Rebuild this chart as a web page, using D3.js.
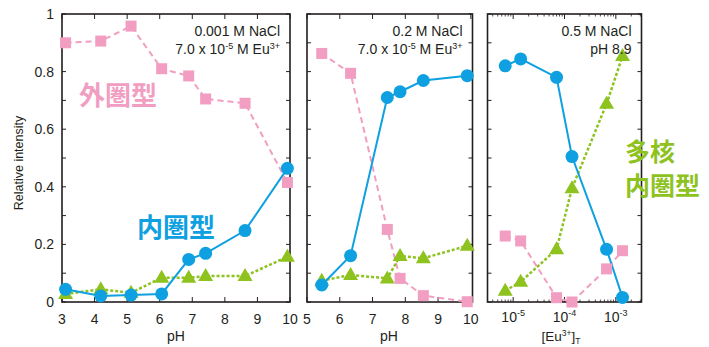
<!DOCTYPE html>
<html><head><meta charset="utf-8">
<script src="https://cdn.jsdelivr.net/npm/d3@7"></script>
<style>body{margin:0;background:#fff}svg{display:block}</style>
</head><body><svg id="c" width="709" height="347"></svg>
<script>
// Panel 1: 0.001 M NaCl, x = pH
const p1_pH = [3.11, 4.19, 5.12, 6.06, 6.89, 7.41, 8.62, 9.92];
const p1_outer = [0.90, 0.906, 0.958, 0.81, 0.785, 0.705, 0.69, 0.415];
const p1_inner = [0.044, 0.021, 0.024, 0.028, 0.148, 0.169, 0.248, 0.464];
const p1_poly  = [0.028, 0.044, 0.032, 0.084, 0.084, 0.09, 0.09, 0.157];
// Panel 2: 0.2 M NaCl
const p2_pH = [5.45, 6.33, 7.45, 7.84, 8.55, 9.89];
const p2_outer = [0.863, 0.794, 0.252, 0.082, 0.022, 0.001];
const p2_inner = [0.059, 0.161, 0.71, 0.73, 0.769, 0.786];
const p2_poly  = [0.074, 0.094, 0.082, 0.16, 0.152, 0.195];
// Panel 3: 0.5 M NaCl, pH 8.9, x = [Eu3+]T
const p3_eu = [7e-6, 1.4e-5, 7e-5, 1.4e-4, 6.6e-4, 1.35e-3];
const p3_outer = [0.229, 0.212, 0.015, 0.0, 0.115, 0.178];
const p3_inner = [0.82, 0.844, 0.78, 0.505, 0.183, 0.016];
const p3_poly  = [0.039, 0.07, 0.183, 0.395, 0.688, 0.854];
const yTicks = [0, 0.2, 0.4, 0.6, 0.8, 1];
const p1_xTicks = [3,4,5,6,7,8,9,10];
const p2_xTicks = [5,6,7,8,9,10];
const p3_xTicks = [1e-5, 1e-4, 1e-3];

const svg = d3.select("#c");
const TXT = "#231f20", PINK = "#f19ec2", BLUE = "#0ea0e0", GREEN = "#8dc21f";
const FONT = "Liberation Sans, Arial, sans-serif";
const y = d3.scaleLinear().domain([0,1]).range([302,14]);

function panel(x, xs, o, i, p, opts) {
  const [x0,x1] = x.range();
  const g = svg.append("g");
  const yt = d3.range(0,1.0001,0.1);
  g.selectAll(".yl").data(yt).join("line").attr("x1",x0).attr("x2",x0+4)
    .attr("y1",d=>y(d)).attr("y2",d=>y(d)).attr("stroke",TXT).attr("stroke-width",1);
  g.selectAll(".yr").data(yt).join("line").attr("x1",x1).attr("x2",x1-4)
    .attr("y1",d=>y(d)).attr("y2",d=>y(d)).attr("stroke",TXT).attr("stroke-width",1);
  const xt = opts.xTicks;
  const minor = opts.minor || [];
  [[302,-1],[14,1]].forEach(([yy,s])=>{
    g.selectAll(null).data(xt).join("line").attr("x1",d=>x(d)).attr("x2",d=>x(d))
      .attr("y1",yy).attr("y2",yy+s*5).attr("stroke",TXT).attr("stroke-width",1);
    g.selectAll(null).data(minor).join("line").attr("x1",d=>x(d)).attr("x2",d=>x(d))
      .attr("y1",yy).attr("y2",yy+s*2.5).attr("stroke",TXT).attr("stroke-width",0.8);
  });
  g.append("rect").attr("x",x0).attr("y",14).attr("width",x1-x0).attr("height",288)
    .attr("fill","none").attr("stroke",TXT).attr("stroke-width",1.6);
  const lab = g.selectAll(".xl").data(xt).join("text").attr("x",d=>x(d)).attr("y",opts.log?322:324)
    .attr("text-anchor","middle").attr("font-family",FONT).attr("font-size",14).attr("fill",TXT);
  if (opts.log) {
    lab.each(function(d){
      const t = d3.select(this);
      t.append("tspan").text("10");
      t.append("tspan").attr("font-size",9).attr("dy",-6).text(String(Math.round(Math.log10(d))));
    });
  } else lab.text(d=>d);
  const mk = (ys)=>d3.line().x((d,k)=>x(xs[k])).y(d=>y(d))(ys);
  g.append("path").attr("d",mk(o)).attr("fill","none").attr("stroke",PINK).attr("stroke-width",2).attr("stroke-dasharray","6,4");
  g.append("path").attr("d",mk(p)).attr("fill","none").attr("stroke",GREEN).attr("stroke-width",2.5).attr("stroke-dasharray","3,2");
  g.append("path").attr("d",mk(i)).attr("fill","none").attr("stroke",BLUE).attr("stroke-width",2);
  g.selectAll(null).data(o).join("rect").attr("x",(d,k)=>x(xs[k])-5.5).attr("y",d=>y(d)-5.5)
    .attr("width",11).attr("height",11).attr("fill",PINK);
  g.selectAll(null).data(p).join("path")
    .attr("d",(d,k)=>{const cx=x(xs[k]), cy=y(d); return `M${cx},${cy-8}L${cx+7.5},${cy+5}L${cx-7.5},${cy+5}Z`;})
    .attr("fill",GREEN);
  g.selectAll(null).data(i).join("circle").attr("cx",(d,k)=>x(xs[k])).attr("cy",d=>y(d)).attr("r",6.5).attr("fill",BLUE);
  opts.notes.forEach((n,k)=>{
    const t = g.append("text").attr("x",x1-10).attr("y",36+k*18).attr("text-anchor","end")
      .attr("font-family",FONT).attr("font-size",14).attr("fill",TXT);
    n.forEach(([s,sup])=>{
      const ts = t.append("tspan").text(s);
      if (sup==="sup") ts.attr("font-size",9).attr("dy",-5);
      if (sup==="base") ts.attr("dy",5);
    });
  });
  return g;
}

const x1 = d3.scaleLinear().domain([3,10]).range([62,290]);
panel(x1, p1_pH, p1_outer, p1_inner, p1_poly, {xTicks:p1_xTicks,
  notes:[[["0.001 M NaCl"]],[["7.0 x 10"],["-5","sup"],[" M Eu","base"],["3+","sup"]]]});
const x2 = d3.scaleLinear().domain([5,10.05]).range([307,472.5]);
panel(x2, p2_pH, p2_outer, p2_inner, p2_poly, {xTicks:p2_xTicks,
  notes:[[["0.2 M NaCl"]],[["7.0 x 10"],["-5","sup"],[" M Eu","base"],["3+","sup"]]]});
const x3 = d3.scaleLog().domain([Math.pow(10,-5.5), Math.pow(10,-2.5)]).range([487.5,641.5]);
const minor3 = [];
[1e-6,1e-5,1e-4,1e-3].forEach(b=>{for(let m=2;m<=9;m++){const v=b*m; if(v>=x3.domain()[0]&&v<=x3.domain()[1]) minor3.push(v);}});
panel(x3, p3_eu, p3_outer, p3_inner, p3_poly, {xTicks:p3_xTicks, log:true, minor:minor3,
  notes:[[["0.5 M NaCl"]],[["pH 8.9"]]]});

svg.selectAll(".yt").data(yTicks).join("text").attr("x",54).attr("y",d=>y(d)+5)
  .attr("text-anchor","end").attr("font-family",FONT).attr("font-size",14).attr("fill",TXT).text(d=>d);
svg.append("text").attr("transform","translate(23,163) rotate(-90)").attr("text-anchor","middle")
  .attr("font-family",FONT).attr("font-size",12.5).attr("fill",TXT).text("Relative intensity");
svg.append("text").attr("x",176).attr("y",341).attr("text-anchor","middle").attr("font-family",FONT)
  .attr("font-size",14).attr("fill",TXT).text("pH");
svg.append("text").attr("x",389).attr("y",341).attr("text-anchor","middle").attr("font-family",FONT)
  .attr("font-size",14).attr("fill",TXT).text("pH");
const et = svg.append("text").attr("x",561).attr("y",341).attr("text-anchor","middle").attr("font-family",FONT)
  .attr("font-size",13.5).attr("fill",TXT);
et.append("tspan").text("[Eu");
et.append("tspan").attr("font-size",8.5).attr("dy",-5).text("3+");
et.append("tspan").attr("dy",5).text("]");
et.append("tspan").attr("font-size",8.5).attr("dy",3).text("T");

const JP = "Noto Sans CJK JP";
svg.append("text").attr("x",79).attr("y",105).attr("font-family",JP).attr("font-weight","bold")
  .attr("font-size",26).attr("fill",PINK).text("外圏型");
svg.append("text").attr("x",137).attr("y",237).attr("font-family",JP).attr("font-weight","bold")
  .attr("font-size",26).attr("fill",BLUE).text("内圏型");
svg.append("text").attr("x",625).attr("y",161).attr("font-family",JP).attr("font-weight","bold")
  .attr("font-size",25).attr("fill",GREEN).text("多核");
svg.append("text").attr("x",625).attr("y",195).attr("font-family",JP).attr("font-weight","bold")
  .attr("font-size",25).attr("fill",GREEN).text("内圏型");
</script></body></html>
